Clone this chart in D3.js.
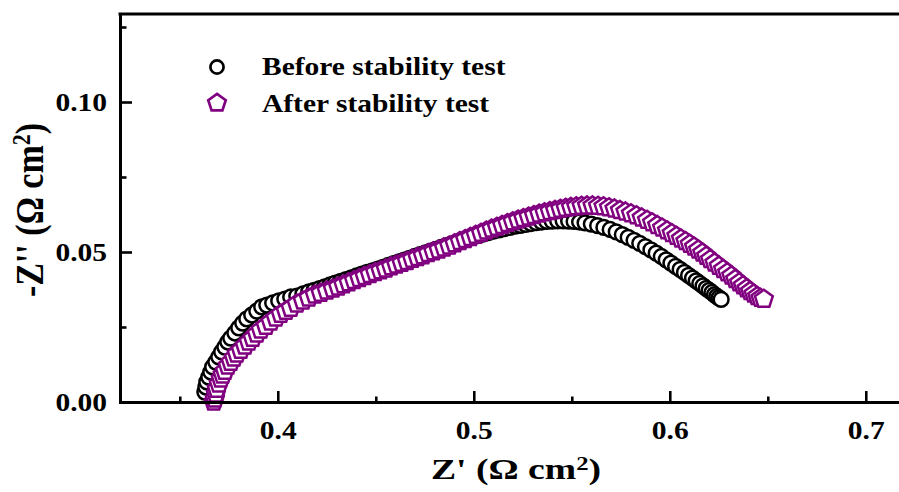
<!DOCTYPE html>
<html lang="en">

<head>
  <meta charset="UTF-8">
  <title>Nyquist plot - before / after stability test</title>
  <script src="https://cdn.jsdelivr.net/npm/d3@7.9.0/dist/d3.min.js"></script>
  <style>
    html,
    body {
      margin: 0;
      padding: 0;
      background: #fff;
    }

    svg {
      display: block;
      font-family: "Liberation Serif", "Times New Roman", serif;
      font-weight: bold;
    }
  </style>
</head>

<body>
  <svg id="chart" width="899" height="492"></svg>

  <script>
    // --- data (Z' and -Z'' in ohm cm2) ---
    const beforeZre = [0.3628, 0.3633, 0.3638, 0.3648, 0.3658, 0.3668, 0.3684, 0.3699, 0.3714, 0.3730,
      0.3745, 0.3760, 0.3781, 0.3801, 0.3821, 0.3842, 0.3867, 0.3893, 0.3918, 0.3944,
      0.3974, 0.4005, 0.4036, 0.4066, 0.4097, 0.4128, 0.4158,
      0.4185, 0.4212, 0.4239, 0.4266, 0.4293, 0.4320, 0.4347, 0.4374, 0.4401, 0.4428,
      0.4455, 0.4482, 0.4509, 0.4536, 0.4563, 0.4590, 0.4617, 0.4644, 0.4671, 0.4698,
      0.4725, 0.4752, 0.4779, 0.4806, 0.4833, 0.4860, 0.4887, 0.4914, 0.4941, 0.4968,
      0.4995, 0.5022, 0.5049, 0.5076, 0.5103, 0.5130, 0.5157, 0.5184, 0.5211, 0.5238,
      0.5265, 0.5292, 0.5319, 0.5346, 0.5373, 0.5400, 0.5428, 0.5456, 0.5484, 0.5512,
      0.5540, 0.5568,
      0.5600, 0.5632, 0.5664, 0.5696, 0.5727, 0.5758, 0.5788, 0.5818, 0.5847, 0.5876,
      0.5904, 0.5931, 0.5957, 0.5982, 0.6006, 0.6030, 0.6053, 0.6075, 0.6096, 0.6116,
      0.6135, 0.6153, 0.6170, 0.6186, 0.6201, 0.6215, 0.6228, 0.6240, 0.6251, 0.6262];
    const beforeZim = [0.0033, 0.0050, 0.0067, 0.0083, 0.0100, 0.0117, 0.0133, 0.0150, 0.0167, 0.0183,
      0.0200, 0.0213, 0.0230, 0.0247, 0.0263, 0.0277, 0.0290, 0.0303, 0.0317, 0.0323,
      0.0330, 0.0337, 0.0343, 0.0350, 0.0353, 0.0360, 0.0367,
      0.0372, 0.0378, 0.0384, 0.0390, 0.0396, 0.0402, 0.0408, 0.0414, 0.0420, 0.0426,
      0.0432, 0.0437, 0.0443, 0.0449, 0.0455, 0.0461, 0.0467, 0.0473, 0.0479, 0.0485,
      0.0491, 0.0497, 0.0503, 0.0509, 0.0515, 0.0521, 0.0527, 0.0533, 0.0539, 0.0545,
      0.0550, 0.0555, 0.0560, 0.0565, 0.0570, 0.0574, 0.0578, 0.0582, 0.0586, 0.0589,
      0.0592, 0.0595, 0.0598, 0.0600, 0.0602, 0.0603, 0.0604, 0.0604, 0.0603, 0.0602,
      0.0600, 0.0597,
      0.0593, 0.0588, 0.0582, 0.0575, 0.0567, 0.0558, 0.0549, 0.0539, 0.0529, 0.0518,
      0.0507, 0.0496, 0.0485, 0.0474, 0.0463, 0.0452, 0.0442, 0.0432, 0.0422, 0.0413,
      0.0404, 0.0395, 0.0387, 0.0379, 0.0372, 0.0365, 0.0358, 0.0352, 0.0347, 0.0342];

    const afterZre = [0.3673, 0.3679, 0.3684, 0.3689, 0.3699, 0.3709, 0.3719, 0.3730, 0.3745, 0.3760,
      0.3776, 0.3791, 0.3811, 0.3832, 0.3852, 0.3872, 0.3893, 0.3913, 0.3939, 0.3964,
      0.3990, 0.4015, 0.4041, 0.4066, 0.4097, 0.4128, 0.4158, 0.4189, 0.4219, 0.4250,
      0.4281,
      0.4308, 0.4335, 0.4362, 0.4389, 0.4416, 0.4443, 0.4470, 0.4497, 0.4524, 0.4551,
      0.4578, 0.4605, 0.4632, 0.4659, 0.4686, 0.4713, 0.4740, 0.4767, 0.4794, 0.4821,
      0.4848, 0.4875, 0.4902, 0.4929, 0.4956, 0.4983,
      0.5010, 0.5037, 0.5064, 0.5091, 0.5118, 0.5145, 0.5172, 0.5199, 0.5226, 0.5253,
      0.5280, 0.5307, 0.5334, 0.5361, 0.5388, 0.5415, 0.5442, 0.5469, 0.5496, 0.5523,
      0.5550, 0.5578, 0.5606, 0.5634, 0.5662, 0.5690, 0.5718, 0.5746, 0.5774, 0.5802,
      0.5830, 0.5857, 0.5884, 0.5910, 0.5936, 0.5961, 0.5986, 0.6010, 0.6034, 0.6057,
      0.6080, 0.6102, 0.6124, 0.6145, 0.6166, 0.6186,
      0.6206, 0.6228, 0.6250, 0.6272, 0.6293, 0.6314, 0.6334, 0.6354, 0.6373, 0.6392,
      0.6410, 0.6428, 0.6446, 0.6463, 0.6480];
    const afterZim = [0.0000, 0.0010, 0.0027, 0.0043, 0.0060, 0.0077, 0.0090, 0.0103, 0.0120, 0.0133,
      0.0147, 0.0160, 0.0173, 0.0187, 0.0200, 0.0213, 0.0227, 0.0240, 0.0253, 0.0267,
      0.0280, 0.0293, 0.0303, 0.0313, 0.0327, 0.0337, 0.0347, 0.0357, 0.0363, 0.0370,
      0.0377,
      0.0384, 0.0391, 0.0398, 0.0405, 0.0412, 0.0419, 0.0425, 0.0432, 0.0438, 0.0444,
      0.0451, 0.0457, 0.0463, 0.0469, 0.0476, 0.0482, 0.0488, 0.0495, 0.0501, 0.0507,
      0.0514, 0.0520, 0.0528, 0.0535, 0.0542, 0.0549,
      0.0556, 0.0563, 0.0570, 0.0577, 0.0583, 0.0589, 0.0595, 0.0601, 0.0607, 0.0612,
      0.0617, 0.0622, 0.0627, 0.0631, 0.0635, 0.0639, 0.0643, 0.0646, 0.0649, 0.0651,
      0.0653, 0.0654, 0.0654, 0.0653, 0.0651, 0.0648, 0.0644, 0.0639, 0.0634, 0.0628,
      0.0621, 0.0614, 0.0606, 0.0598, 0.0589, 0.0580, 0.0571, 0.0562, 0.0553, 0.0544,
      0.0535, 0.0526, 0.0517, 0.0507, 0.0497, 0.0486,
      0.0475, 0.0464, 0.0453, 0.0442, 0.0431, 0.0420, 0.0409, 0.0398, 0.0388, 0.0378,
      0.0369, 0.0360, 0.0352, 0.0346, 0.0343];

    const seriesNames = ["Before stability test", "After stability test"];
    const xMajorTicks = [0.4, 0.5, 0.6, 0.7];
    const xMinorTicks = [0.35, 0.45, 0.55, 0.65];
    const yMajorTicks = [0.00, 0.05, 0.10];
    const yMinorTicks = [0.025, 0.075, 0.125];

    // --- layout ---
    const svg = d3.select("#chart");
    const left = 120, bottom = 402;
    const SX = 1.18; // the original lettering is a bit wide
    const black = "#000", purple = "#800080";

    const x = d3.scaleLinear().domain([0.3195, 0.72]).range([left, left + 0.4005 * 1960]);
    const y = d3.scaleLinear().domain([0, 0.1293]).range([bottom, bottom - 0.1293 * 3000]);

    // --- markers ---
    const pentagon = (R) => {
      const pts = d3.range(5).map(k => {
        const a = -Math.PI / 2 + k * 2 * Math.PI / 5;
        return [R * Math.cos(a), R * Math.sin(a)];
      });
      return "M" + pts.map(p => p.join(",")).join("L") + "Z";
    };

    const beforePts = d3.zip(beforeZre, beforeZim);
    const afterPts = d3.zip(afterZre, afterZim);

    const plot = svg.append("g");

    plot.append("g").selectAll("circle")
      .data(beforePts)
      .join("circle")
      .attr("cx", d => x(d[0]))
      .attr("cy", d => y(d[1]))
      .attr("r", 7.4)
      .attr("fill", "#fff")
      .attr("stroke", black)
      .attr("stroke-width", 2.5);

    plot.append("g").selectAll("path")
      .data(afterPts)
      .join("path")
      .attr("transform", d => `translate(${x(d[0])},${y(d[1])})`)
      .attr("d", pentagon(9.4))
      .attr("fill", "#fff")
      .attr("stroke", purple)
      .attr("stroke-width", 2.5)
      .attr("stroke-linejoin", "miter");

    // --- axes ---
    const styleAxis = (g) => {
      g.select(".domain").attr("stroke-width", 3).attr("stroke-linecap", "square");
      g.selectAll(".tick line").attr("stroke-width", 2.6);
      g.selectAll(".tick text")
        .style("font-size", "25px")
        .style("font-family", "'Liberation Serif', 'Times New Roman', serif")
        .style("font-weight", "bold")
        .attr("fill", "#000");
    };

    const xAxis = svg.append("g")
      .attr("transform", `translate(0,${bottom})`)
      .call(d3.axisBottom(x).tickValues(xMajorTicks).tickFormat(d3.format(".1f"))
        .tickSizeInner(-11).tickSizeOuter(0).tickPadding(19.5))
      .call(styleAxis);
    xAxis.selectAll(".tick text").attr("transform", `scale(${SX},1)`);

    svg.append("g")
      .attr("transform", `translate(0,${bottom})`)
      .call(d3.axisBottom(x).tickValues(xMinorTicks).tickFormat("")
        .tickSizeInner(-5.5).tickSizeOuter(0))
      .call(g => g.select(".domain").remove())
      .call(g => g.selectAll(".tick line").attr("stroke-width", 2.6));

    const yAxis = svg.append("g")
      .attr("transform", `translate(${left},0)`)
      .call(d3.axisLeft(y).tickValues(yMajorTicks).tickFormat(d3.format(".2f"))
        .tickSizeInner(-12).tickSizeOuter(0).tickPadding(13))
      .call(styleAxis);
    yAxis.selectAll(".tick text")
      .attr("x", -13 / SX)
      .attr("transform", `scale(${SX},1)`);

    svg.append("g")
      .attr("transform", `translate(${left},0)`)
      .call(d3.axisLeft(y).tickValues(yMinorTicks).tickFormat("")
        .tickSizeInner(-6.5).tickSizeOuter(0))
      .call(g => g.select(".domain").remove())
      .call(g => g.selectAll(".tick line").attr("stroke-width", 2.6));

    // top frame line
    svg.append("line")
      .attr("x1", left).attr("x2", x.range()[1])
      .attr("y1", y(0.1293)).attr("y2", y(0.1293))
      .attr("stroke", "#000").attr("stroke-width", 3).attr("stroke-linecap", "square");

    // --- axis titles ---
    const xTitle = svg.append("g").attr("transform", "translate(516,479)")
      .append("text")
      .attr("text-anchor", "middle")
      .attr("transform", "scale(1.3,1)")
      .style("font-size", "29px");
    xTitle.append("tspan").text("Z' (\u03A9 cm");
    xTitle.append("tspan").attr("dy", "-0.5em").style("font-size", "19px").text("2");
    xTitle.append("tspan").attr("dy", "0.33em").text(")");

    const yTitle = svg.append("g").attr("transform", "translate(43,210) rotate(-90)")
      .append("text")
      .attr("text-anchor", "middle")
      .attr("transform", `scale(1,${SX})`)
      .style("font-size", "34px");
    yTitle.append("tspan").text("-Z'' (\u03A9 cm");
    yTitle.append("tspan").attr("dy", "-0.5em").style("font-size", "22px").text("2");
    yTitle.append("tspan").attr("dy", "0.32em").text(")");

    // --- legend ---
    const legend = svg.append("g");
    const legendRows = [
      { name: seriesNames[0], cy: 67, base: 75 },
      { name: seriesNames[1], cy: 103, base: 111.5 }
    ];
    legend.append("circle")
      .attr("cx", 217).attr("cy", legendRows[0].cy).attr("r", 6.6)
      .attr("fill", "#fff").attr("stroke", black).attr("stroke-width", 2.7);
    legend.append("path")
      .attr("transform", `translate(217,${legendRows[1].cy})`)
      .attr("d", pentagon(9.2))
      .attr("fill", "#fff").attr("stroke", purple).attr("stroke-width", 2.7);
    legend.selectAll("g.row")
      .data(legendRows)
      .join("g")
      .attr("class", "row")
      .attr("transform", d => `translate(262,${d.base})`)
      .append("text")
      .attr("transform", `scale(${SX},1)`)
      .style("font-size", "25px")
      .text(d => d.name);
  </script>
</body>

</html>
